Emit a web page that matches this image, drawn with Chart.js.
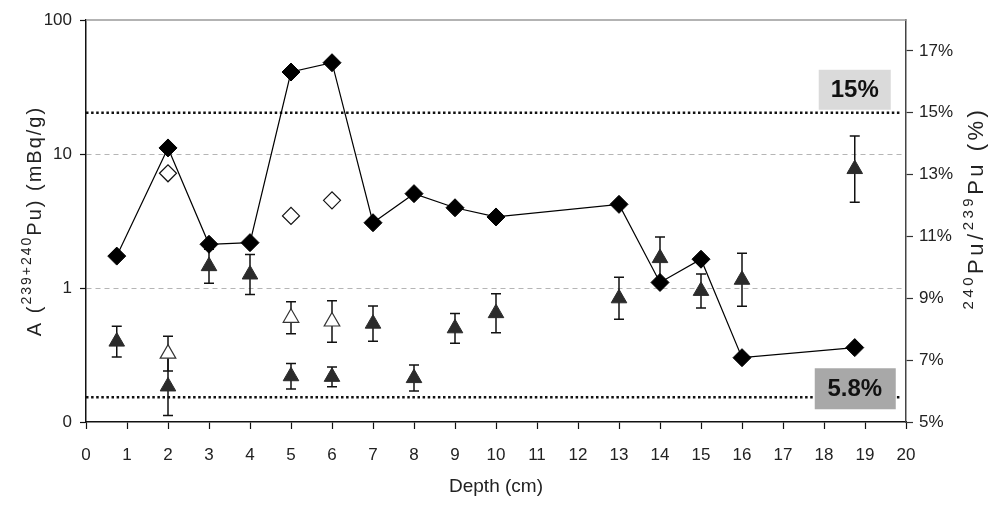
<!DOCTYPE html>
<html><head><meta charset="utf-8">
<script src="https://cdn.jsdelivr.net/npm/chart.js@4.4.1/dist/chart.umd.min.js"></script>
<style>html,body{margin:0;padding:0;background:#fff}#wrap{width:991px;height:505px;position:relative}</style>
</head><body><div id="wrap"><canvas id="c" width="991" height="505"></canvas></div>
<script>
// ---- data ----
const depthFilled = [0.75, 2, 3, 4, 5, 6, 7, 8, 9, 10, 13, 14, 15, 16, 18.75];
const activityFilled = [1.73, 11.1, 2.12, 2.18, 40.9, 48, 3.07, 5.06, 3.97, 3.39, 4.21, 1.10, 1.64, 0.302, 0.359];
const depthOpen = [2, 5, 6];
const activityOpen = [7.18, 3.45, 4.51];
const ratioFilled = [7.6, 6.15, 10.04, 9.77, 6.48, 6.46, 8.18, 6.42, 8.03, 8.52, 9.0, 10.3, 9.24, 9.6, 13.18];
const ratioFilledErr = [0.5, 0.94, 0.55, 0.65, 0.41, 0.32, 0.57, 0.42, 0.48, 0.63, 0.68, 0.68, 0.55, 0.86, 1.07];
const ratioOpen = [7.21, 8.37, 8.25];
const ratioOpenErr = [0.56, 0.52, 0.67];
const refLines = [15, 5.8];
const refLabels = ['15%', '5.8%'];
const refLabelDepth = 18.75;
const leftTicks = [0.1, 1, 10, 100];
const rightTicks = [5, 7, 9, 11, 13, 15, 17];
const xTitle = 'Depth (cm)';

const FONT = "'Liberation Sans', Arial, Helvetica, sans-serif";
const pts = (xs, ys) => xs.map((x, i) => ({x: x, y: ys[i]}));

const errorBars = {
  id: 'errorBars',
  beforeDatasetsDraw(chart) {
    const ctx = chart.ctx, xs = chart.scales.x, ys = chart.scales.y1;
    const draw = (d, v, e) => {
      ctx.save();
      ctx.strokeStyle = '#111'; ctx.lineWidth = 1.5;
      d.forEach((dx, i) => {
        const px = xs.getPixelForValue(dx);
        const top = ys.getPixelForValue(v[i] + e[i]);
        const bot = ys.getPixelForValue(v[i] - e[i]);
        ctx.beginPath();
        ctx.moveTo(px, top); ctx.lineTo(px, bot);
        ctx.moveTo(px - 5, top); ctx.lineTo(px + 5, top);
        ctx.moveTo(px - 5, bot); ctx.lineTo(px + 5, bot);
        ctx.stroke();
      });
      ctx.restore();
    };
    draw(depthFilled, ratioFilled, ratioFilledErr);
    draw(depthOpen, ratioOpen, ratioOpenErr);
  }
};

const refPlugin = {
  id: 'refPlugin',
  beforeDatasetsDraw(chart) {
    const ctx = chart.ctx, a = chart.chartArea, ys = chart.scales.y1;
    ctx.save();
    ctx.strokeStyle = '#9a9a9a'; ctx.lineWidth = 1.5;
    ctx.beginPath(); ctx.moveTo(a.left, a.top); ctx.lineTo(a.right, a.top); ctx.stroke();
    ctx.strokeStyle = '#111'; ctx.lineWidth = 2.6; ctx.setLineDash([2.5, 2.6]);
    refLines.forEach(v => {
      const y = ys.getPixelForValue(v);
      ctx.beginPath(); ctx.moveTo(a.left, y); ctx.lineTo(a.right - 4, y); ctx.stroke();
    });
    ctx.restore();
  },
  afterDatasetsDraw(chart) {
    const ctx = chart.ctx, xs = chart.scales.x, ys = chart.scales.y1;
    const cx = xs.getPixelForValue(refLabelDepth);
    ctx.save();
    ctx.textAlign = 'center'; ctx.textBaseline = 'middle';
    ctx.font = 'bold 24px ' + FONT;
    let y = ys.getPixelForValue(refLines[0]);
    ctx.fillStyle = 'rgba(212,212,212,0.85)';
    ctx.fillRect(cx - 36, y - 43, 72, 40);
    ctx.fillStyle = '#111';
    ctx.fillText(refLabels[0], cx, y - 22);
    y = ys.getPixelForValue(refLines[1]);
    ctx.fillStyle = '#a8a8a8';
    ctx.fillRect(cx - 40, y - 29, 81, 41);
    ctx.fillStyle = '#111';
    ctx.fillText(refLabels[1], cx, y - 8);
    ctx.restore();
  }
};

function drawRich(ctx, parts, cx, cy, rot, spacing) {
  ctx.save();
  ctx.translate(cx, cy); ctx.rotate(rot);
  ctx.letterSpacing = spacing + 'px';
  ctx.textBaseline = 'middle'; ctx.textAlign = 'left'; ctx.fillStyle = '#222';
  let total = 0;
  parts.forEach(p => { ctx.font = p.font; p.w = ctx.measureText(p.t).width; total += p.w; });
  let x = -total / 2;
  parts.forEach(p => { ctx.font = p.font; ctx.fillText(p.t, x, p.dy); x += p.w; });
  ctx.restore();
}

const yTitles = {
  id: 'yTitles',
  afterDraw(chart) {
    const ctx = chart.ctx, a = chart.chartArea;
    drawRich(ctx, [
      {t: 'A (', font: '20px ' + FONT, dy: 0},
      {t: '239+240', font: '14px ' + FONT, dy: -8},
      {t: 'Pu) (mBq/g)', font: '20px ' + FONT, dy: 0}
    ], 35, (a.top + a.bottom) / 2, -Math.PI / 2, 2);
    drawRich(ctx, [
      {t: '240', font: '15px ' + FONT, dy: -8},
      {t: 'Pu/', font: '22px ' + FONT, dy: 0},
      {t: '239', font: '15px ' + FONT, dy: -8},
      {t: 'Pu (%)', font: '22px ' + FONT, dy: 0}
    ], 977, 208, -Math.PI / 2, 3.5);
  }
};

const tickFont = {family: FONT, size: 17};

new Chart(document.getElementById('c'), {
  type: 'scatter',
  data: {
    datasets: [
      {
        label: 'A filled', data: pts(depthFilled, activityFilled), yAxisID: 'y',
        showLine: true, borderColor: '#000', borderWidth: 1.2,
        pointStyle: 'rectRot', pointRadius: 9, pointBackgroundColor: '#000', pointBorderColor: '#000', pointBorderWidth: 1
      },
      {
        label: 'A open', data: pts(depthOpen, activityOpen), yAxisID: 'y',
        showLine: false, pointStyle: 'rectRot', pointRadius: 8.5,
        pointBackgroundColor: '#fff', pointBorderColor: '#111', pointBorderWidth: 1.2
      },
      {
        label: 'ratio filled', data: pts(depthFilled, ratioFilled), yAxisID: 'y1',
        showLine: false, pointStyle: 'triangle', pointRadius: 9,
        pointBackgroundColor: '#2b2b2b', pointBorderColor: '#2b2b2b', pointBorderWidth: 1
      },
      {
        label: 'ratio open', data: pts(depthOpen, ratioOpen), yAxisID: 'y1',
        showLine: false, pointStyle: 'triangle', pointRadius: 9,
        pointBackgroundColor: '#fff', pointBorderColor: '#333', pointBorderWidth: 1.2
      }
    ]
  },
  options: {
    responsive: false, animation: false, devicePixelRatio: 1,
    layout: {padding: {top: 20, left: 0, right: 0, bottom: 0}},
    plugins: {legend: {display: false}, tooltip: {enabled: false}},
    scales: {
      x: {
        type: 'linear', position: 'bottom', min: 0, max: 20,
        afterFit: s => { s.height = 83; },
        ticks: {stepSize: 1, autoSkip: false, maxRotation: 0, font: tickFont, color: '#222', padding: 16},
        grid: {drawOnChartArea: false, tickLength: 7, tickColor: '#111', tickWidth: 1.2},
        border: {color: '#111', width: 1.5},
        title: {display: true, text: xTitle, font: {family: FONT, size: 19}, color: '#222', padding: {top: 0, bottom: 7}}
      },
      y: {
        type: 'logarithmic', position: 'left', min: 0.1, max: 100,
        afterFit: s => { s.width = 86; },
        afterBuildTicks: s => { s.ticks = leftTicks.map(v => ({value: v, major: true})); },
        ticks: {font: tickFont, color: '#222', padding: 8,
          callback: v => (v === 0.1 ? '0' : String(v))},
        grid: {
          color: c => (c.tick && (c.tick.value === 1 || c.tick.value === 10)) ? '#b5b5b5' : 'rgba(0,0,0,0)',
          lineWidth: 1, tickLength: 6, tickColor: '#111', tickWidth: 1.2
        },
        border: {color: '#111', width: 1.5, dash: [5, 4]}
      },
      y1: {
        type: 'linear', position: 'right', min: 5, max: 18,
        afterFit: s => { s.width = 85; },
        afterBuildTicks: s => { s.ticks = rightTicks.map(v => ({value: v})); },
        ticks: {font: tickFont, color: '#222', padding: 6, callback: v => v + '%'},
        grid: {drawOnChartArea: false, tickLength: 7, tickColor: '#333', tickWidth: 1.2},
        border: {color: '#444', width: 1.5}
      }
    }
  },
  plugins: [errorBars, refPlugin, yTitles]
});
</script>
</body></html>
